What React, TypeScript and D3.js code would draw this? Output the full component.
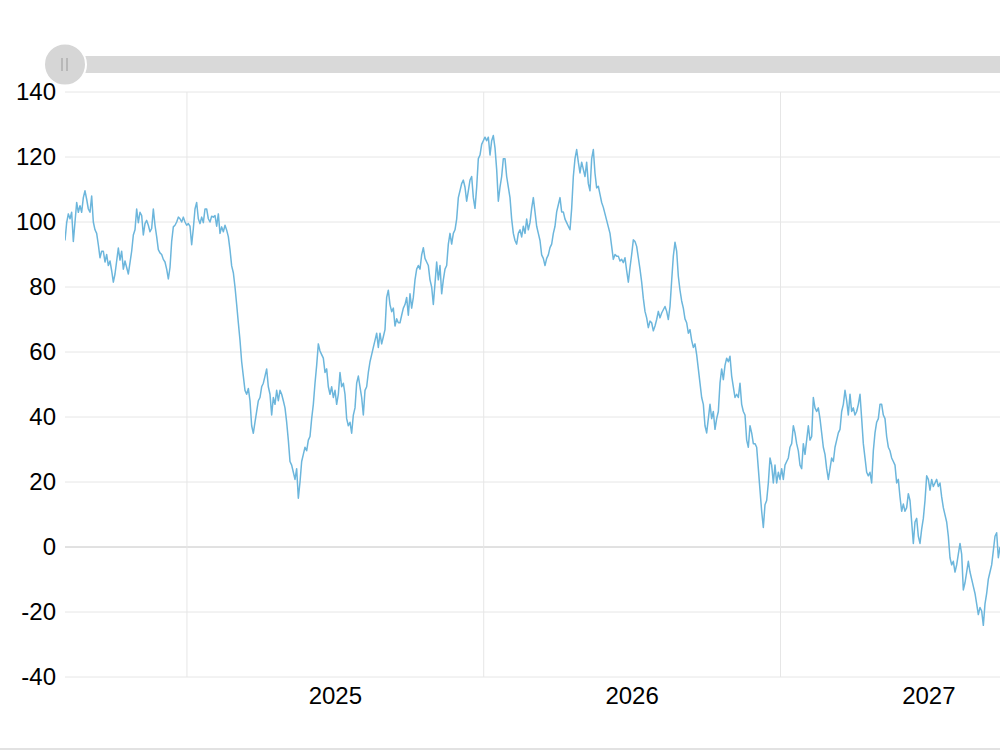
import * as d3 from 'd3'

// first and last day of the daily series, points spread evenly between them
const startDate = new Date(2024, 7, 4)
const endDate = new Date(2027, 8, 28)

const yTicks = [-40, -20, 0, 20, 40, 60, 80, 100, 120, 140]
const years = [2025, 2026, 2027]

const values = [
  94.3, 99.8, 102.5, 101, 103, 94, 100, 106, 103, 105,
  103, 107.5, 109.6, 107, 104, 103, 108, 100, 97.6, 96.5,
  93, 89, 91, 91, 87.7, 90, 86.6, 88, 85, 81.5,
  84, 88, 92, 88.3, 91, 85.5, 88, 86, 84, 87.5,
  91, 96, 97.6, 104, 99.8, 103, 102, 96, 99.5, 100.5,
  99, 97, 98, 104, 99, 95.5, 91.5, 90.5, 90, 88.5,
  87.7, 85.5, 82.5, 86, 94, 98.5, 99, 100, 101.5, 101,
  100, 101.5, 100, 99, 99.5, 98.7, 93, 98, 104, 106,
  101, 99.5, 101.5, 99.8, 104, 104, 101, 100, 101.8, 101.5,
  102, 98.7, 102.5, 96.5, 98.5, 97, 99, 97.5, 95.5, 91.5,
  86.5, 84.4, 80, 74.6, 69, 63.6, 57, 52.6, 48.2, 47,
  48.8, 45, 37.3, 35, 38.4, 41.7, 45, 46, 49.3, 50.4,
  52.6, 54.8, 49.3, 47, 40.6, 46, 43.9, 48.2, 45, 48.2,
  47, 45, 42.8, 38.4, 32.9, 26.3, 25.2, 23, 20.8, 24.1,
  15, 20, 26.3, 28.5, 30.7, 29.6, 32.9, 34, 39.5, 43.9,
  50.4, 55.9, 62.5, 60.3, 59.2, 58.1, 53.7, 54.8, 49.3, 47,
  49.3, 46, 48.2, 43.9, 47, 53.7, 49.3, 50.4, 47, 39.5,
  37.3, 38.4, 35, 40.6, 42.8, 50.4, 52.6, 49.3, 46, 40.6,
  48.2, 49.3, 53.7, 57, 59.2, 61.4, 63.6, 65.8, 61.4, 65.8,
  // 2025
  62.5, 64.7, 66.9, 76.8, 79, 74.6, 72.4, 73.5, 68, 70.2,
  69, 69, 71.3, 73.5, 74.6, 76.8, 71.3, 77.9, 73.5, 76.8,
  82.2, 85.5, 86.6, 85.5, 89.9, 92.1, 88.8, 87.7, 86.6, 82.2,
  80, 74.6, 81.1, 87.7, 82.2, 86.6, 77.9, 82.2, 85.5, 86.6,
  93.2, 96.5, 93.2, 96.5, 97.6, 100.9, 107.5, 109.6, 111.8, 112.9,
  110.7, 106.4, 109.6, 112.9, 114, 107.5, 104.2, 110.7, 119.5, 120.6,
  123.9, 125, 126.1, 125, 126.1, 120.6, 125, 126.6, 122.8, 116.2,
  106.4, 110.7, 114, 119.5, 119.5, 114, 110.7, 107.5, 100.9, 96.5,
  94.3, 93.2, 96.5, 97.6, 95.4, 98.7, 96.5, 100.9, 97.6, 99.8,
  104.2, 107.5, 103.1, 98.7, 96.5, 94.3, 89.9, 88.8, 86.6, 88.8,
  89.9, 92.1, 93.2, 96.5, 98.7, 103.1, 105.3, 107.5, 103.1, 103.1,
  100.9, 99.8, 98.7, 97.6, 104.2, 114, 119.5, 122.3, 118.4, 115.1,
  118.4, 116.2, 114, 118.4, 111.8, 109.6, 119.5, 122.3, 115, 110.5,
  111, 108.5, 106, 104.5, 102.5, 100.5, 98.5, 96.5, 92.5, 88.5,
  90, 89.5, 89.5, 88, 88.5, 87.5, 89, 85, 81.5, 86,
  90, 94.5, 94, 92.5, 89, 85.5, 81.5, 76.5, 72.5, 70.5,
  67.5, 69.5, 69, 66.5, 68, 70, 72.5, 70.5, 72, 73,
  74, 72.5, 70, 74, 82, 89.5, 93.8, 91, 83.3, 79,
  75.7, 73.5, 70.2, 69, 65.8, 66.9,
  // 2026
  63.6, 61.4, 62.5, 59.2, 54.8, 50.4, 46, 43.9, 37.3, 35.1,
  39.5, 43.9, 39.5, 41.7, 36.2, 39.5, 41.7, 50.4, 54.8, 51.5,
  55.9, 58.1, 57, 58.7, 52.6, 49.3, 46, 47, 46, 50.4,
  43.9, 41.7, 40.6, 32.9, 30.7, 37.3, 35.1, 31.8, 31.8, 30.7,
  24.1, 17.5, 11, 6, 13, 14.3, 19.7, 27.4, 25.2, 19.7,
  25.2, 19.7, 23, 20.8, 24.1, 20.8, 25.2, 26.3, 27.4, 30.7,
  31.8, 37.3, 35.1, 31.8, 29.6, 25.2, 24.1, 31.8, 28.5, 32.9,
  37.3, 32.9, 34, 46, 42.8, 41.7, 42.8, 39.5, 35.1, 30.7,
  28.5, 24.1, 20.8, 24.1, 27.4, 26.3, 30.7, 32.9, 35.1, 36.2,
  41.7, 43.9, 48.2, 45, 40.6, 47, 41.7, 42.8, 40.6, 41.7,
  43.9, 47, 39.5, 31.8, 27.4, 23, 21.9, 23, 19.7, 29.6,
  35.1, 38.4, 39.5, 43.9, 43.9, 40.6, 39.5, 34, 30.7, 29.6,
  27.4, 26.3, 25.2, 19.7, 20.8, 15.4, 11, 13.2, 11, 12.1,
  16.4, 14.3, 7.7, 1.1, 7.7, 8.8, 3.3, 1.1, 5.5, 8.8,
  14.3, 21.9, 20.8, 17.5, 20.8, 18.6, 19.7, 20.8, 18.6, 19.7,
  15.4, 12.1, 9.9, 7.7, 3.3, -3.3, -5.5, -4.4, -7.7, -5.5,
  -2.2, 1.1, -2.2, -13.2, -11, -7.7, -4.4, -7.7, -9.9, -12.1,
  -14.3, -17.5, -20.8, -18.6, -19.7, -24.1, -17.5, -14.3, -9.9, -7.7,
  -5.5, -1.1, 3.3, 4.4, -3.3, 0,
]

interface Point {
  date: Date
  value: number
}

export default function App() {
  const width = 1000
  const height = 750
  const left = 65
  const right = 1000
  const top = 92
  const bottom = 677
  const font = '"Liberation Sans", Arial, sans-serif'

  const x = d3.scaleTime().domain([startDate, endDate]).range([left, right])
  const y = d3.scaleLinear().domain([-40, 140]).range([bottom, top])

  // spread the daily readings evenly over the date range
  const when = d3.scaleLinear()
    .domain([0, values.length - 1])
    .range([startDate.getTime(), endDate.getTime()])
  const data: Point[] = values.map((v, i) => ({ date: new Date(when(i)), value: v }))

  const line = d3.line<Point>()
    .x(d => x(d.date))
    .y(d => y(d.value))

  const yearStarts = years.map(yr => new Date(yr, 0, 1))

  return (
    <svg
      width={width}
      height={height}
      style={{ position: 'absolute', left: 0, top: 0, background: '#fff' }}
    >
      <defs>
        <clipPath id="plot">
          <rect x={left} y={top - 2} width={right - left} height={bottom - top + 4} />
        </clipPath>
      </defs>

      {/* horizontal grid */}
      {yTicks.map(t => (
        <line
          key={'h' + t}
          x1={left}
          x2={right}
          y1={y(t)}
          y2={y(t)}
          stroke={t === 0 ? '#c4c4c4' : '#e6e6e6'}
          strokeWidth={1}
        />
      ))}

      {/* vertical grid at year starts */}
      {yearStarts.map(d => (
        <line
          key={'v' + d.getFullYear()}
          x1={x(d)}
          x2={x(d)}
          y1={top}
          y2={bottom}
          stroke="#e6e6e6"
          strokeWidth={1}
        />
      ))}

      {/* y labels */}
      {yTicks.map(t => (
        <text
          key={'yl' + t}
          x={56}
          y={y(t)}
          dy="0.35em"
          textAnchor="end"
          fontFamily={font}
          fontSize={24}
          fill="#000"
        >
          {t}
        </text>
      ))}

      {/* x labels, centred inside each year */}
      {yearStarts.map(d => {
        const mid = new Date((d.getTime() + d3.timeYear.offset(d, 1).getTime()) / 2)
        return (
          <text
            key={'xl' + d.getFullYear()}
            x={x(mid)}
            y={bottom + 19}
            dy="0.35em"
            textAnchor="middle"
            fontFamily={font}
            fontSize={24}
            fill="#000"
          >
            {d.getFullYear()}
          </text>
        )
      })}

      <path
        d={line(data) || ''}
        fill="none"
        stroke="#6cb6dc"
        strokeWidth={1.5}
        strokeLinejoin="round"
        clipPath="url(#plot)"
      />

      {/* scrollbar */}
      <rect x={left} y={56} width={right - left + 10} height={17} fill="#d9d9d9" />
      <circle cx={left} cy={64.5} r={21} fill="#d6d6d6" stroke="#fff" strokeWidth={2} />
      <line x1={left - 3} x2={left - 3} y1={58} y2={71} stroke="#9a9a9a" strokeWidth={1} />
      <line x1={left + 2} x2={left + 2} y1={58} y2={71} stroke="#9a9a9a" strokeWidth={1} />

      {/* bottom edge */}
      <rect x={0} y={748} width={width} height={2} fill="#e2e2e2" />
    </svg>
  )
}
